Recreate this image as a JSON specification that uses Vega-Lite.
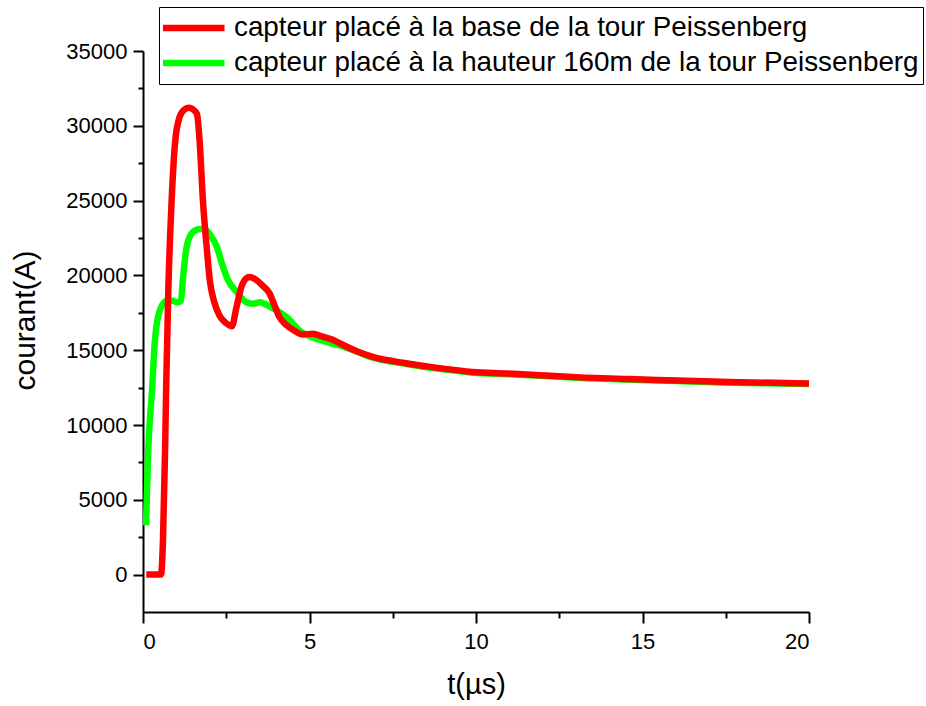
{
  "$schema": "https://vega.github.io/schema/vega-lite/v6.json",
  "autosize": {"type": "none"},
  "width": 666,
  "height": 561,
  "padding": {"left": 143, "top": 51, "right": 117, "bottom": 94},
  "background": "white",
  "config": {
    "view": {"stroke": null},
    "font": "Liberation Sans",
    "axis": {
      "domainColor": "black",
      "domainWidth": 2,
      "tickColor": "black",
      "tickWidth": 2,
      "labelColor": "black",
      "titleColor": "black",
      "labelFont": "Liberation Sans",
      "titleFont": "Liberation Sans",
      "labelFontSize": 22,
      "titleFontWeight": "normal",
      "grid": false
    }
  },
  "data": {
    "values": [
      {"t": 0.09, "i": 3300, "serie": "capteur placé à la hauteur 160m de la tour Peissenberg"},
      {"t": 0.15, "i": 7900, "serie": "capteur placé à la hauteur 160m de la tour Peissenberg"},
      {"t": 0.27, "i": 12300, "serie": "capteur placé à la hauteur 160m de la tour Peissenberg"},
      {"t": 0.36, "i": 15700, "serie": "capteur placé à la hauteur 160m de la tour Peissenberg"},
      {"t": 0.51, "i": 17700, "serie": "capteur placé à la hauteur 160m de la tour Peissenberg"},
      {"t": 0.72, "i": 18300, "serie": "capteur placé à la hauteur 160m de la tour Peissenberg"},
      {"t": 0.9, "i": 18300, "serie": "capteur placé à la hauteur 160m de la tour Peissenberg"},
      {"t": 1.02, "i": 18200, "serie": "capteur placé à la hauteur 160m de la tour Peissenberg"},
      {"t": 1.14, "i": 18300, "serie": "capteur placé à la hauteur 160m de la tour Peissenberg"},
      {"t": 1.2, "i": 19800, "serie": "capteur placé à la hauteur 160m de la tour Peissenberg"},
      {"t": 1.32, "i": 22000, "serie": "capteur placé à la hauteur 160m de la tour Peissenberg"},
      {"t": 1.5, "i": 22900, "serie": "capteur placé à la hauteur 160m de la tour Peissenberg"},
      {"t": 1.71, "i": 23100, "serie": "capteur placé à la hauteur 160m de la tour Peissenberg"},
      {"t": 1.9, "i": 23000, "serie": "capteur placé à la hauteur 160m de la tour Peissenberg"},
      {"t": 2.05, "i": 22600, "serie": "capteur placé à la hauteur 160m de la tour Peissenberg"},
      {"t": 2.22, "i": 21900, "serie": "capteur placé à la hauteur 160m de la tour Peissenberg"},
      {"t": 2.37, "i": 20800, "serie": "capteur placé à la hauteur 160m de la tour Peissenberg"},
      {"t": 2.55, "i": 19700, "serie": "capteur placé à la hauteur 160m de la tour Peissenberg"},
      {"t": 2.85, "i": 18800, "serie": "capteur placé à la hauteur 160m de la tour Peissenberg"},
      {"t": 3.1, "i": 18200, "serie": "capteur placé à la hauteur 160m de la tour Peissenberg"},
      {"t": 3.3, "i": 18100, "serie": "capteur placé à la hauteur 160m de la tour Peissenberg"},
      {"t": 3.51, "i": 18200, "serie": "capteur placé à la hauteur 160m de la tour Peissenberg"},
      {"t": 3.7, "i": 18050, "serie": "capteur placé à la hauteur 160m de la tour Peissenberg"},
      {"t": 3.9, "i": 17800, "serie": "capteur placé à la hauteur 160m de la tour Peissenberg"},
      {"t": 4.32, "i": 17200, "serie": "capteur placé à la hauteur 160m de la tour Peissenberg"},
      {"t": 4.71, "i": 16300, "serie": "capteur placé à la hauteur 160m de la tour Peissenberg"},
      {"t": 5.3, "i": 15700, "serie": "capteur placé à la hauteur 160m de la tour Peissenberg"},
      {"t": 5.92, "i": 15300, "serie": "capteur placé à la hauteur 160m de la tour Peissenberg"},
      {"t": 6.43, "i": 14900, "serie": "capteur placé à la hauteur 160m de la tour Peissenberg"},
      {"t": 6.9, "i": 14500, "serie": "capteur placé à la hauteur 160m de la tour Peissenberg"},
      {"t": 7.9, "i": 14080, "serie": "capteur placé à la hauteur 160m de la tour Peissenberg"},
      {"t": 8.9, "i": 13750, "serie": "capteur placé à la hauteur 160m de la tour Peissenberg"},
      {"t": 9.9, "i": 13500, "serie": "capteur placé à la hauteur 160m de la tour Peissenberg"},
      {"t": 10.9, "i": 13400, "serie": "capteur placé à la hauteur 160m de la tour Peissenberg"},
      {"t": 11.9, "i": 13290, "serie": "capteur placé à la hauteur 160m de la tour Peissenberg"},
      {"t": 13, "i": 13160, "serie": "capteur placé à la hauteur 160m de la tour Peissenberg"},
      {"t": 14.6, "i": 13030, "serie": "capteur placé à la hauteur 160m de la tour Peissenberg"},
      {"t": 16, "i": 12940, "serie": "capteur placé à la hauteur 160m de la tour Peissenberg"},
      {"t": 17.6, "i": 12830, "serie": "capteur placé à la hauteur 160m de la tour Peissenberg"},
      {"t": 20, "i": 12740, "serie": "capteur placé à la hauteur 160m de la tour Peissenberg"},
      {"t": 0.1, "i": 0, "serie": "capteur placé à la base de la tour Peissenberg"},
      {"t": 0.3, "i": 0, "serie": "capteur placé à la base de la tour Peissenberg"},
      {"t": 0.54, "i": 0, "serie": "capteur placé à la base de la tour Peissenberg"},
      {"t": 0.6, "i": 2300, "serie": "capteur placé à la base de la tour Peissenberg"},
      {"t": 0.66, "i": 8000, "serie": "capteur placé à la base de la tour Peissenberg"},
      {"t": 0.7, "i": 13000, "serie": "capteur placé à la base de la tour Peissenberg"},
      {"t": 0.76, "i": 19000, "serie": "capteur placé à la base de la tour Peissenberg"},
      {"t": 0.85, "i": 24500, "serie": "capteur placé à la base de la tour Peissenberg"},
      {"t": 0.96, "i": 28800, "serie": "capteur placé à la base de la tour Peissenberg"},
      {"t": 1.1, "i": 30600, "serie": "capteur placé à la base de la tour Peissenberg"},
      {"t": 1.25, "i": 31100, "serie": "capteur placé à la base de la tour Peissenberg"},
      {"t": 1.38, "i": 31200, "serie": "capteur placé à la base de la tour Peissenberg"},
      {"t": 1.5, "i": 31100, "serie": "capteur placé à la base de la tour Peissenberg"},
      {"t": 1.62, "i": 30800, "serie": "capteur placé à la base de la tour Peissenberg"},
      {"t": 1.7, "i": 29000, "serie": "capteur placé à la base de la tour Peissenberg"},
      {"t": 1.8, "i": 25000, "serie": "capteur placé à la base de la tour Peissenberg"},
      {"t": 1.92, "i": 21700, "serie": "capteur placé à la base de la tour Peissenberg"},
      {"t": 2.01, "i": 19600, "serie": "capteur placé à la base de la tour Peissenberg"},
      {"t": 2.13, "i": 18300, "serie": "capteur placé à la base de la tour Peissenberg"},
      {"t": 2.3, "i": 17300, "serie": "capteur placé à la base de la tour Peissenberg"},
      {"t": 2.5, "i": 16800, "serie": "capteur placé à la base de la tour Peissenberg"},
      {"t": 2.67, "i": 16600, "serie": "capteur placé à la base de la tour Peissenberg"},
      {"t": 2.8, "i": 17800, "serie": "capteur placé à la base de la tour Peissenberg"},
      {"t": 2.95, "i": 19200, "serie": "capteur placé à la base de la tour Peissenberg"},
      {"t": 3.1, "i": 19800, "serie": "capteur placé à la base de la tour Peissenberg"},
      {"t": 3.2, "i": 19900, "serie": "capteur placé à la base de la tour Peissenberg"},
      {"t": 3.4, "i": 19700, "serie": "capteur placé à la base de la tour Peissenberg"},
      {"t": 3.6, "i": 19300, "serie": "capteur placé à la base de la tour Peissenberg"},
      {"t": 3.8, "i": 18800, "serie": "capteur placé à la base de la tour Peissenberg"},
      {"t": 3.95, "i": 18000, "serie": "capteur placé à la base de la tour Peissenberg"},
      {"t": 4.1, "i": 17200, "serie": "capteur placé à la base de la tour Peissenberg"},
      {"t": 4.3, "i": 16700, "serie": "capteur placé à la base de la tour Peissenberg"},
      {"t": 4.55, "i": 16300, "serie": "capteur placé à la base de la tour Peissenberg"},
      {"t": 4.8, "i": 16050, "serie": "capteur placé à la base de la tour Peissenberg"},
      {"t": 5.1, "i": 16100, "serie": "capteur placé à la base de la tour Peissenberg"},
      {"t": 5.4, "i": 15900, "serie": "capteur placé à la base de la tour Peissenberg"},
      {"t": 5.7, "i": 15700, "serie": "capteur placé à la base de la tour Peissenberg"},
      {"t": 5.92, "i": 15450, "serie": "capteur placé à la base de la tour Peissenberg"},
      {"t": 6.4, "i": 14950, "serie": "capteur placé à la base de la tour Peissenberg"},
      {"t": 6.9, "i": 14550, "serie": "capteur placé à la base de la tour Peissenberg"},
      {"t": 7.9, "i": 14130, "serie": "capteur placé à la base de la tour Peissenberg"},
      {"t": 8.9, "i": 13800, "serie": "capteur placé à la base de la tour Peissenberg"},
      {"t": 9.9, "i": 13550, "serie": "capteur placé à la base de la tour Peissenberg"},
      {"t": 10.9, "i": 13450, "serie": "capteur placé à la base de la tour Peissenberg"},
      {"t": 11.9, "i": 13330, "serie": "capteur placé à la base de la tour Peissenberg"},
      {"t": 13, "i": 13200, "serie": "capteur placé à la base de la tour Peissenberg"},
      {"t": 14.6, "i": 13070, "serie": "capteur placé à la base de la tour Peissenberg"},
      {"t": 16, "i": 12980, "serie": "capteur placé à la base de la tour Peissenberg"},
      {"t": 17.6, "i": 12870, "serie": "capteur placé à la base de la tour Peissenberg"},
      {"t": 20, "i": 12780, "serie": "capteur placé à la base de la tour Peissenberg"}
    ]
  },
  "mark": {"type": "line", "interpolate": "monotone", "strokeWidth": 6.5, "strokeJoin": "round", "strokeCap": "butt"},
  "encoding": {
    "x": {
      "field": "t",
      "type": "quantitative",
      "title": "t(µs)",
      "scale": {"domain": [0, 20], "nice": false, "zero": false},
      "axis": {
        "values": [0, 2.5, 5, 7.5, 10, 12.5, 15, 17.5, 20],
        "labelExpr": "datum.value % 5 === 0 ? datum.label : ''",
        "format": "d",
        "labelOverlap": false,
        "tickSize": {"condition": {"test": "datum.value % 5 === 0", "value": 11}, "value": 6},
        "labelPadding": 8,
        "titleFontSize": 29,
        "titlePadding": 18
      }
    },
    "y": {
      "field": "i",
      "type": "quantitative",
      "title": "courant(A)",
      "scale": {"domain": [-2500, 35000], "nice": false, "zero": false},
      "axis": {
        "values": [0, 2500, 5000, 7500, 10000, 12500, 15000, 17500, 20000, 22500, 25000, 27500, 30000, 32500, 35000],
        "labelExpr": "datum.value % 5000 === 0 ? datum.label : ''",
        "format": "d",
        "labelOverlap": false,
        "tickSize": {"condition": {"test": "datum.value % 5000 === 0", "value": 10}, "value": 5},
        "labelPadding": 6,
        "titleFontSize": 30,
        "titlePadding": 25,
        "titleY": 269
      }
    },
    "color": {
      "field": "serie",
      "type": "nominal",
      "sort": null,
      "scale": {
        "domain": ["capteur placé à la base de la tour Peissenberg", "capteur placé à la hauteur 160m de la tour Peissenberg"],
        "range": ["#ff0000", "#00ff00"]
      },
      "legend": {
        "title": null,
        "orient": "none",
        "legendX": 16,
        "legendY": -44,
        "direction": "vertical",
        "strokeColor": "black",
        "fillColor": "white",
        "padding": 4,
        "symbolType": "stroke",
        "symbolSize": 3844,
        "symbolStrokeWidth": 6.5,
        "symbolOffset": -4,
        "clipHeight": 34,
        "rowPadding": 1,
        "labelOffset": 6,
        "labelFont": "Liberation Sans",
        "labelFontSize": 27.8,
        "labelColor": "black",
        "labelLimit": 0
      }
    }
  }
}
